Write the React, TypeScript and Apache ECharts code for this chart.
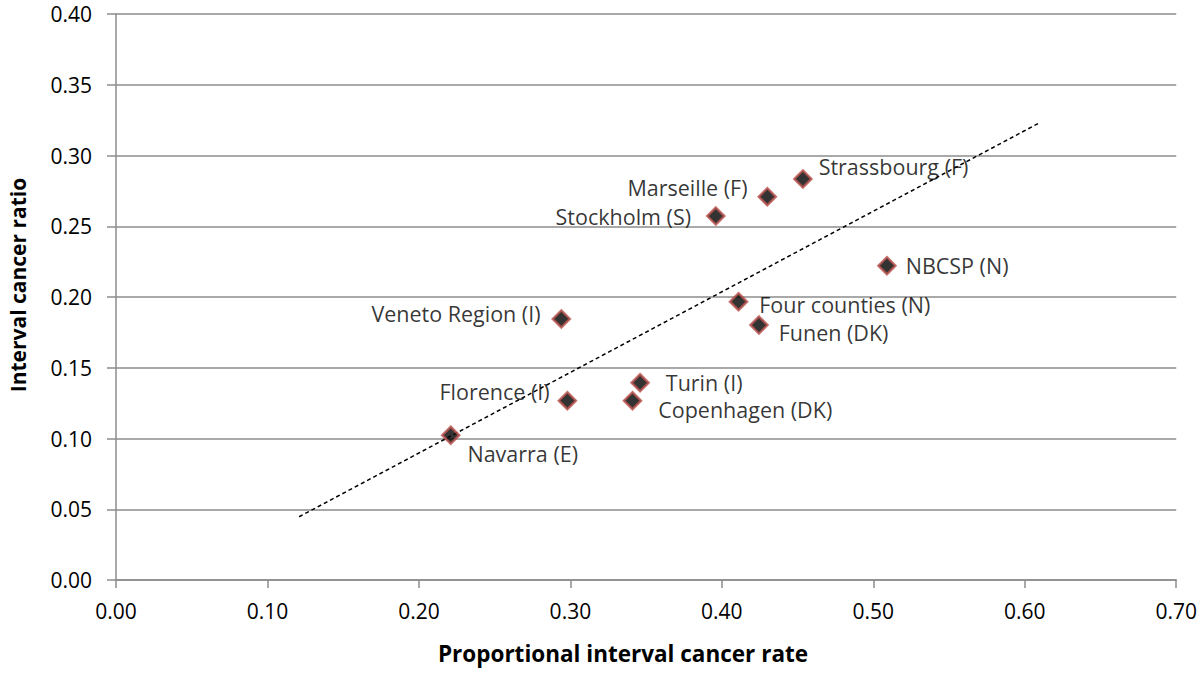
import React, { useEffect, useRef } from "react";
import * as echarts from "echarts";

const regions = [
  "Navarra (E)",
  "Florence (I)",
  "Copenhagen (DK)",
  "Turin (I)",
  "Veneto Region (I)",
  "Four counties (N)",
  "Funen (DK)",
  "Stockholm (S)",
  "Marseille (F)",
  "Strassbourg (F)",
  "NBCSP (N)",
];
const proportionalRate = [0.221, 0.298, 0.341, 0.346, 0.294, 0.411, 0.4245, 0.396, 0.43, 0.4535, 0.509];
const cancerRatio = [0.1023, 0.1267, 0.1267, 0.1394, 0.1845, 0.1967, 0.1802, 0.2572, 0.2709, 0.2834, 0.2221];
// label side and offset from marker centre (px)
const labelSide = ["right", "left", "right", "right", "left", "right", "right", "left", "left", "right", "right"];
const labelDx = [15, -16, 24, 24, -19, 19, 18, -23, -18, 14, 17];
const labelDy = [18, -9, 9, 0, -5, 3, 7, 0, -9, -12, 0];

const trendX = [0.1209, 0.609];
const trendY = [0.0447, 0.3227];

const xTicks = { min: 0, max: 0.7, interval: 0.1 };
const yTicks = { min: 0, max: 0.4, interval: 0.05 };

const FONT = "'Open Sans', sans-serif";

export default function App() {
  const ref = useRef<HTMLDivElement>(null);
  useEffect(() => {
    const chart = echarts.init(ref.current!, null, { renderer: "svg" });
    const half = 8;
    const points = regions.map((name, i) => {
      const side = labelSide[i];
      const offX = side === "right" ? labelDx[i] - half : labelDx[i] + half;
      return {
        name,
        value: [proportionalRate[i], cancerRatio[i]],
        label: {
          show: true,
          position: side,
          distance: 0,
          offset: [offX, labelDy[i]],
          formatter: name,
        },
      };
    });
    chart.setOption({
      animation: false,
      backgroundColor: "#ffffff",
      grid: { left: 116, right: 23, top: 14, bottom: 95 },
      xAxis: {
        type: "value",
        min: xTicks.min,
        max: xTicks.max,
        interval: xTicks.interval,
        axisLine: { show: true, lineStyle: { color: "#8c8c8c", width: 1.5 } },
        axisTick: { show: true, length: 8, lineStyle: { color: "#8c8c8c", width: 1.5 } },
        splitLine: { show: false },
        axisLabel: {
          margin: 20,
          color: "#000",
          fontSize: 21,
          fontFamily: FONT,
          formatter: (v: number) => v.toFixed(2),
        },
      },
      yAxis: {
        type: "value",
        min: yTicks.min,
        max: yTicks.max,
        interval: yTicks.interval,
        axisLine: { show: true, lineStyle: { color: "#8c8c8c", width: 1.5 } },
        axisTick: { show: true, length: 9, lineStyle: { color: "#8c8c8c", width: 1.5 } },
        splitLine: { show: true, lineStyle: { color: "#8c8c8c", width: 1.5 } },
        axisLabel: {
          margin: 24,
          color: "#000",
          fontSize: 21,
          fontFamily: FONT,
          formatter: (v: number) => v.toFixed(2),
        },
      },
      graphic: [
        {
          type: "text",
          x: 623,
          y: 653,
          style: {
            text: "Proportional interval cancer rate",
            font: `bold 22.5px ${FONT}`,
            fill: "#000",
            align: "center",
            verticalAlign: "middle",
          },
        },
        {
          type: "text",
          x: 18,
          y: 285,
          rotation: Math.PI / 2,
          style: {
            text: "Interval cancer ratio",
            font: `bold 21px ${FONT}`,
            fill: "#000",
            align: "center",
            verticalAlign: "middle",
          },
        },
      ],
      series: [
        {
          type: "line",
          data: trendX.map((x, i) => [x, trendY[i]]),
          symbol: "none",
          lineStyle: { color: "#000", width: 1.5, type: [4, 3] },
          silent: true,
          z: 3,
        },
        {
          type: "scatter",
          data: points,
          symbol: "diamond",
          symbolSize: 17,
          itemStyle: { color: "#000", borderColor: "#b8504b", borderWidth: 2.5 },
          label: { color: "#000", fontSize: 21.5, fontFamily: FONT },
          z: 4,
        },
      ],
    });
    return () => chart.dispose();
  }, []);
  return <div ref={ref} style={{ width: 1200, height: 675, position: "absolute", left: 0, top: 0 }} />;
}
